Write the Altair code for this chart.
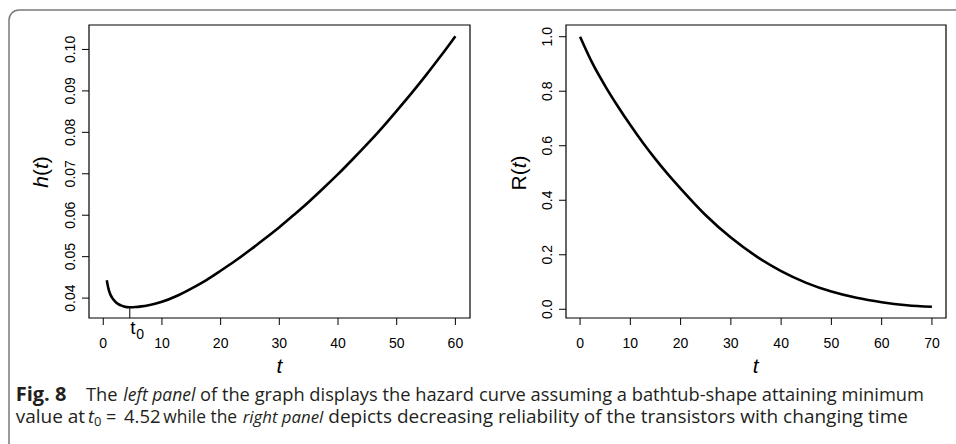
import altair as alt
import pandas as pd

# ---------------- data ----------------
# left panel: hazard curve h(t)
t_h = [0.6, 0.8, 1.0, 1.5, 2.0, 2.5, 3.0, 3.5, 4.52, 5.5, 6.5, 7.5, 10.0,
       12.5, 15.0, 17.5, 20.0, 22.5, 25.0, 27.5, 30.0, 32.5, 35.0, 37.5,
       40.0, 42.5, 45.0, 47.5, 50.0, 52.5, 55.0, 57.5, 60.0]
h_vals = [0.0443, 0.0428, 0.0417, 0.0401, 0.0392, 0.0386, 0.03825, 0.0380,
          0.0378, 0.03785, 0.0380, 0.0382, 0.0391, 0.0405, 0.0423, 0.0443,
          0.0466, 0.0490, 0.0516, 0.0543, 0.0571, 0.0601, 0.0632, 0.0665,
          0.0699, 0.0735, 0.0772, 0.0811, 0.0852, 0.0894, 0.0938, 0.0984,
          0.1032]
# right panel: reliability R(t)
t_r = [0, 2.5, 5, 7.5, 10, 12.5, 15, 17.5, 20, 25, 30, 35, 40, 45, 50,
       55, 60, 65, 70]
r_vals = [1.0, 0.901, 0.819, 0.745, 0.676, 0.611, 0.551, 0.495, 0.443,
          0.345, 0.263, 0.195, 0.140, 0.097, 0.065, 0.042, 0.026, 0.015,
          0.009]
# ticks
h_xticks = [0, 10, 20, 30, 40, 50, 60]
h_yticks = [0.04, 0.05, 0.06, 0.07, 0.08, 0.09, 0.10]
r_xticks = [0, 10, 20, 30, 40, 50, 60, 70]
r_yticks = [0.0, 0.2, 0.4, 0.6, 0.8, 1.0]
# minimum of the hazard
t0 = 4.52
h_min = 0.0378

# plot-region limits (R style 4% expansion)
h_xdom = [-2.43, 62.49]
h_ydom = [0.0352, 0.1059]
r_xdom = [-2.8, 72.8]
r_ydom = [-0.032, 1.043]

haz = pd.DataFrame({"t": t_h, "h": h_vals})
rel = pd.DataFrame({"t": t_r, "R": r_vals})
t0_df = pd.DataFrame({"t": [t0], "h": [h_min]})
one = pd.DataFrame({"k": [0]})

AX_FONT = "Liberation Sans"
CAP_FONT = "Open Sans"
CAP_COL = "#231f20"
TICK_FS = 14
BOX_BOTTOM = 318


def box(xdom, ydom):
    return alt.Chart(one).mark_rect(
        fillOpacity=0, stroke="black", strokeWidth=1.2
    ).encode(
        x=alt.X(datum=xdom[0], type="quantitative", axis=None),
        x2=alt.X2(datum=xdom[1]),
        y=alt.Y(datum=ydom[0], type="quantitative", axis=None),
        y2=alt.Y2(datum=ydom[1]),
    )


def x_ticks(vals, fmt):
    df = pd.DataFrame({"v": vals})
    rules = alt.Chart(df).mark_rule(color="black", strokeWidth=1).encode(
        x=alt.X("v:Q", axis=None),
        y=alt.value(BOX_BOTTOM), y2=alt.value(BOX_BOTTOM + 7),
    )
    labels = alt.Chart(df).mark_text(
        font=AX_FONT, fontSize=TICK_FS, align="center",
        baseline="alphabetic", color="black"
    ).encode(
        x=alt.X("v:Q", axis=None), y=alt.value(348),
        text=alt.Text("v:Q", format=fmt),
    )
    return [rules, labels]


def y_ticks(vals, fmt, left_px):
    df = pd.DataFrame({"v": vals})
    rules = alt.Chart(df).mark_rule(color="black", strokeWidth=1).encode(
        y=alt.Y("v:Q", axis=None),
        x=alt.value(left_px - 7), x2=alt.value(left_px),
    )
    labels = alt.Chart(df).mark_text(
        font=AX_FONT, fontSize=TICK_FS, align="center",
        baseline="alphabetic", color="black", angle=270
    ).encode(
        y=alt.Y("v:Q", axis=None), x=alt.value(left_px - 14),
        text=alt.Text("v:Q", format=fmt),
    )
    return [rules, labels]


# ---------------- left panel ----------------
hx = alt.Scale(domain=h_xdom, range=[89, 470], nice=False, zero=False)
hy = alt.Scale(domain=h_ydom, range=[318, 25], nice=False, zero=False)

left_line = alt.Chart(haz).mark_line(
    color="black", strokeWidth=2.6, interpolate="monotone"
).encode(
    x=alt.X("t:Q", scale=hx, axis=None),
    y=alt.Y("h:Q", scale=hy, axis=None),
)
t0_rule = alt.Chart(t0_df).mark_rule(color="black", strokeWidth=1).encode(
    x=alt.X("t:Q", axis=None),
    y=alt.Y("h:Q", axis=None),
    y2=alt.Y2(datum=h_ydom[0]),
)
t0_t = alt.Chart(t0_df).mark_text(
    text="t", font=AX_FONT, fontSize=19, align="left",
    baseline="alphabetic", color="black", dx=0.5
).encode(x=alt.X("t:Q", axis=None), y=alt.value(334))
t0_sub = alt.Chart(t0_df).mark_text(
    text="0", font=AX_FONT, fontSize=14, align="left",
    baseline="alphabetic", color="black", dx=6.5
).encode(x=alt.X("t:Q", axis=None), y=alt.value(338.5))

left = alt.layer(
    left_line, box(h_xdom, h_ydom),
    *x_ticks(h_xticks, "d"), *y_ticks(h_yticks, ".2f", 89),
    t0_rule, t0_t, t0_sub,
)

# ---------------- right panel ----------------
rx = alt.Scale(domain=r_xdom, range=[566, 946], nice=False, zero=False)
ry = alt.Scale(domain=r_ydom, range=[318, 25], nice=False, zero=False)

right_line = alt.Chart(rel).mark_line(
    color="black", strokeWidth=2.6, interpolate="monotone"
).encode(
    x=alt.X("t:Q", scale=rx, axis=None),
    y=alt.Y("R:Q", scale=ry, axis=None),
)
right = alt.layer(
    right_line, box(r_xdom, r_ydom),
    *x_ticks(r_xticks, "d"), *y_ticks(r_yticks, ".1f", 566),
)

# ---------------- frame, titles, caption ----------------
frame = alt.Chart(one).mark_rect(
    fillOpacity=0, stroke="#7a7a7a", strokeWidth=1.5, cornerRadius=10
).encode(
    x=alt.value(9), x2=alt.value(990), y=alt.value(10), y2=alt.value(470)
)


def txt(s, x, y, size, font=CAP_FONT, style="normal", weight="normal",
        angle=0, align="left", color=CAP_COL):
    return alt.Chart(one).mark_text(
        text=s, font=font, fontSize=size, fontStyle=style, fontWeight=weight,
        angle=angle, align=align, baseline="alphabetic", color=color
    ).encode(x=alt.value(x), y=alt.value(y))


L1, L2 = 401, 422.5
texts = [
    # y-axis titles (rotated, reading upwards)
    txt("h", 47.5, 187.8, 21, AX_FONT, "italic", angle=270, color="black"),
    txt("(", 47.5, 176.1, 21, AX_FONT, angle=270, color="black"),
    txt("t", 47.5, 169.1, 21, AX_FONT, "italic", angle=270, color="black"),
    txt(")", 47.5, 163.3, 21, AX_FONT, angle=270, color="black"),
    txt("R", 525.5, 190.5, 21, AX_FONT, angle=270, color="black"),
    txt("(", 525.5, 175.3, 21, AX_FONT, angle=270, color="black"),
    txt("t", 525.5, 168.3, 21, AX_FONT, "italic", angle=270, color="black"),
    txt(")", 525.5, 162.5, 21, AX_FONT, angle=270, color="black"),
    # x-axis titles
    txt("t", 279.5, 373, 21, AX_FONT, "italic", align="center", color="black"),
    txt("t", 755.7, 373, 21, AX_FONT, "italic", align="center", color="black"),
    # caption line 1
    txt("Fig. 8", 15.7, L1, 20, weight="bold"),
    txt("The", 86, L1, 18.3),
    txt("left panel", 123.3, L1, 17.5, style="italic"),
    txt("of the graph displays the hazard", 200, L1, 18.3),
    txt("curve assuming a bathtub-shape attaining minimum", 479, L1, 18.3),
    # caption line 2
    txt("value at", 15.7, L2, 19),
    txt("t", 88, L2, 18, style="italic"),
    txt("0", 94, L2 + 3, 13),
    txt("=", 106, L2, 18),
    txt("4.52", 124, L2, 18.5),
    txt("while the", 163.3, L2, 17.4),
    txt("right panel", 242.7, L2, 16.8, style="italic"),
    txt("depicts decreasing reliability of the transistors with changing "
        "time", 328.3, L2, 19.0),
]
static = alt.layer(*texts)

chart = alt.layer(frame, left, right, static).resolve_scale(
    x="independent", y="independent"
).properties(
    width=956, height=444, padding=0,
    autosize=alt.AutoSizeParams(type="none"),
).configure_view(stroke=None)

chart.save("out.html", embed_options={"renderer": "svg", "actions": False})
